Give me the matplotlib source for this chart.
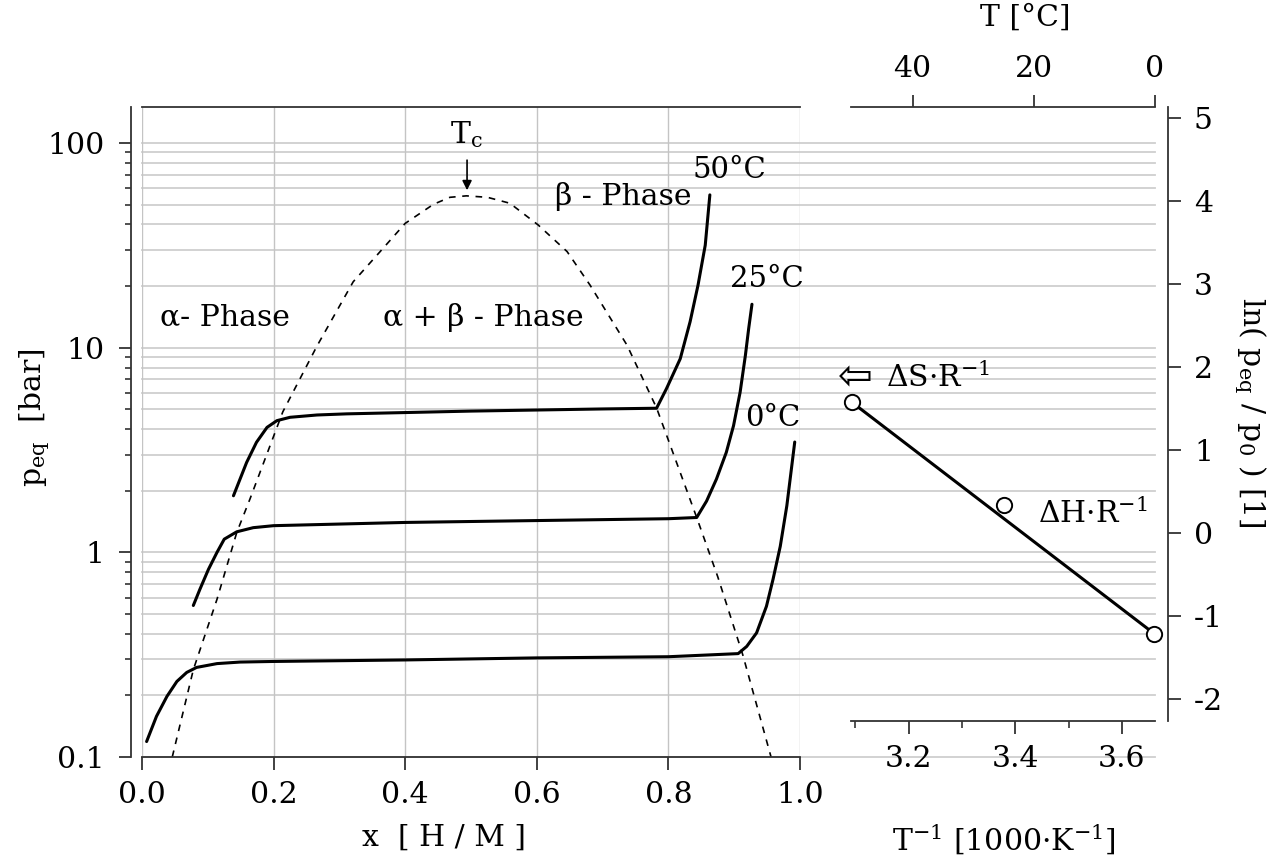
import matplotlib
matplotlib.use("Agg")
import matplotlib.pyplot as plt
from matplotlib.ticker import FixedLocator, NullFormatter, NullLocator

plt.rcParams['font.family'] = ['DejaVu Serif', 'DejaVu Sans']
plt.rcParams['mathtext.fontset'] = 'dejavuserif'
plt.rcParams['font.size'] = 21.5

# isotherms: x [H/M] -> p_eq [bar]
x_0c = [0.007, 0.022, 0.038, 0.053, 0.068, 0.083, 0.114, 0.149, 0.2, 0.4, 0.6, 0.8,
        0.906, 0.919, 0.934, 0.949, 0.959, 0.970, 0.980, 0.992]
p_0c = [0.119, 0.158, 0.198, 0.234, 0.259, 0.274, 0.286, 0.291, 0.293, 0.298, 0.305, 0.309,
        0.32, 0.347, 0.404, 0.545, 0.738, 1.07, 1.69, 3.46]

x_25c = [0.078, 0.088, 0.101, 0.114, 0.125, 0.144, 0.169, 0.2, 0.4, 0.6, 0.8,
         0.843, 0.858, 0.873, 0.888, 0.899, 0.909, 0.917, 0.922, 0.927]
p_25c = [0.55, 0.66, 0.826, 1.0, 1.16, 1.26, 1.32, 1.35, 1.40, 1.43, 1.46,
         1.48, 1.78, 2.28, 3.08, 4.16, 6.06, 9.17, 12.4, 16.3]

x_50c = [0.139, 0.149, 0.159, 0.174, 0.190, 0.205, 0.225, 0.266, 0.311, 0.5, 0.7,
         0.782, 0.797, 0.818, 0.833, 0.845, 0.856, 0.863]
p_50c = [1.89, 2.28, 2.75, 3.45, 4.08, 4.40, 4.57, 4.69, 4.75, 4.9, 5.02,
         5.06, 6.3, 8.83, 13.4, 20.2, 31.7, 55.8]

# two-phase dome (dashed)
x_dome = [0.046, 0.078, 0.114, 0.144, 0.164, 0.214, 0.266, 0.321, 0.357, 0.400, 0.443,
          0.468, 0.493, 0.525, 0.559, 0.602, 0.646, 0.681, 0.737, 0.782, 0.843, 0.875,
          0.913, 0.956]
p_dome = [0.1, 0.267, 0.59, 1.25, 1.82, 4.86, 10.2, 21.0, 28.3, 40.5, 50.2,
          54.3, 55.2, 54.3, 50.8, 39.8, 29.5, 20.2, 10.3, 5.08, 1.48, 0.76,
          0.316, 0.1]

# van 't Hoff plot
inv_T = [3.094, 3.378, 3.661]
ln_p = [1.57, 0.33, -1.22]

x_ticks = [0.0, 0.2, 0.4, 0.6, 0.8, 1.0]
x_ticklabels = ['0.0', '0.2', '0.4', '0.6', '0.8', '1.0']
y_ticks = [0.1, 1, 10, 100]
y_ticklabels = ['0.1', '1', '10', '100']
invT_ticks = [3.2, 3.4, 3.6]
invT_minor = [3.1, 3.3, 3.5]
ln_ticks = [-2, -1, 0, 1, 2, 3, 4, 5]
T_ticks = [40, 20, 0]

W, H = 1283, 867
fig = plt.figure(figsize=(W / 100, H / 100), dpi=100)

def box(l, t, r, b):
    return [l / W, 1 - b / H, (r - l) / W, (b - t) / H]

ax = fig.add_axes(box(142, 107, 800, 757))
ax2 = fig.add_axes(box(851, 107, 1155, 721))

spine_c = '#333333'
ymax = 150

# ---- left panel ----
ax.set_yscale('log')
ax.set_xlim(0, 1.0)
ax.set_ylim(0.1, ymax)

grid_x_end = (1155 - 142) / (800 - 142)
for dec in [0.1, 1, 10, 100]:
    for k in range(1, 10):
        v = k * dec
        if v <= ymax:
            ax.axhline(v, xmin=0, xmax=grid_x_end, clip_on=False,
                       color='#cfcfcf', lw=1.3, zorder=0)
for xv in x_ticks:
    ax.axvline(xv, color='#c4c4c4', lw=1.0, zorder=0)

ax.plot(x_dome, p_dome, color='k', lw=1.2, ls=(0, (4, 4)), zorder=2)
for xs, ps in [(x_0c, p_0c), (x_25c, p_25c), (x_50c, p_50c)]:
    ax.plot(xs, ps, color='k', lw=2.2, solid_capstyle='round',
            solid_joinstyle='round', zorder=3)

ax.spines['right'].set_visible(False)
ax.spines['left'].set_position(('outward', 8))
for s in ['left', 'top', 'bottom']:
    ax.spines[s].set_color(spine_c)
    ax.spines[s].set_linewidth(1.3)

ax.xaxis.set_major_locator(FixedLocator(x_ticks))
ax.set_xticklabels(x_ticklabels)
ax.xaxis.set_minor_locator(NullLocator())
ax.yaxis.set_major_locator(FixedLocator(y_ticks))
ax.set_yticklabels(y_ticklabels)
minor_y = [k * d for d in [0.1, 1, 10, 100] for k in range(2, 10) if k * d <= ymax]
ax.yaxis.set_minor_locator(FixedLocator(minor_y))
ax.yaxis.set_minor_formatter(NullFormatter())
ax.tick_params(axis='both', which='major', direction='out', length=9, width=1.3,
               color=spine_c, labelsize=21.5)
ax.tick_params(axis='y', which='minor', direction='out', length=4.5, width=1.2, color=spine_c)
ax.tick_params(axis='x', pad=8)
ax.tick_params(axis='y', pad=10)

ax.text(0.027, 12.8, 'α- Phase', va='baseline')
ax.text(0.366, 12.8, 'α + β - Phase', va='baseline')
ax.text(0.628, 49.7, 'β - Phase', va='baseline')
ax.text(0.493, 100, r'T$_{\mathrm{c}}$', va='baseline', ha='center')
ax.annotate('', xy=(0.494, 58.8), xytext=(0.494, 82.5),
            arrowprops=dict(arrowstyle='-|>', color='k', lw=1.2, mutation_scale=14,
                            shrinkA=0, shrinkB=0))
ax.text(0.837, 67.4, '50°C', fontsize=21, va='baseline')
ax.text(0.894, 19.9, '25°C', fontsize=21, va='baseline')
ax.text(0.916, 4.15, '0°C', fontsize=21, va='baseline')

# ---- right panel ----
ax2.patch.set_visible(False)
ax2.set_xlim(3.092, 3.662)
ax2.set_ylim(-2.27, 5.13)
ax2.plot([inv_T[0], inv_T[-1]], [ln_p[0], ln_p[-1]], color='k', lw=2.2, zorder=3)
ax2.plot(inv_T, ln_p, ls='none', marker='o', ms=11, mfc='white', mec='k',
         mew=1.4, clip_on=False, zorder=4)

ax2.spines['left'].set_visible(False)
ax2.spines['top'].set_visible(False)
ax2.spines['right'].set_position(('outward', 9))
for s in ['right', 'bottom']:
    ax2.spines[s].set_color(spine_c)
    ax2.spines[s].set_linewidth(1.3)
ax2.yaxis.tick_right()
ax2.yaxis.set_major_locator(FixedLocator(ln_ticks))
ax2.set_yticklabels([str(v) for v in ln_ticks])
ax2.xaxis.set_major_locator(FixedLocator(invT_ticks))
ax2.set_xticklabels(['3.2', '3.4', '3.6'])
ax2.xaxis.set_minor_locator(FixedLocator(invT_minor))
ax2.tick_params(axis='both', which='major', direction='out', length=9, width=1.3,
                color=spine_c, labelsize=21.5)
ax2.tick_params(axis='x', which='minor', direction='out', length=5, width=1.2, color=spine_c)
ax2.tick_params(axis='x', pad=8)
ax2.tick_params(axis='y', pad=10)

# top axis in °C, spaced as in the original (linear with the lower axis)
x_at_0c, deg_per_unit = 3.662, 88.0
secax = ax2.secondary_xaxis('top', functions=(lambda x: (x_at_0c - x) * deg_per_unit,
                                              lambda t: x_at_0c - t / deg_per_unit))
secax.set_xticks(T_ticks)
secax.set_xticklabels([str(t) for t in T_ticks])
secax.tick_params(direction='out', length=9, width=1.3, color=spine_c, labelsize=21.5, pad=8)
secax.spines['top'].set_color(spine_c)
secax.spines['top'].set_linewidth(1.3)

ax2.text(3.100, 1.87, '⇦', family='DejaVu Sans', fontsize=30, ha='center', va='center')
ax2.text(3.157, 1.75, r'ΔS·R$^{-1}$', va='baseline')
ax2.text(3.443, 0.12, r'ΔH·R$^{-1}$', va='baseline')

# ---- axis labels ----
fig.text(444 / W, 1 - 838 / H, 'x  [ H / M ]', ha='center', va='center')
fig.text(35 / W, 1 - 418 / H, r'p$_{\mathrm{eq}}$  [bar]', ha='center', va='center',
         rotation=90)
fig.text(1004 / W, 1 - 840 / H, r'T$^{-1}$ [1000·K$^{-1}$]', ha='center', va='center')
fig.text(1025 / W, 1 - 18 / H, 'T [°C]', ha='center', va='center')
fig.text(1250 / W, 1 - 412 / H, r'ln( p$_{\mathrm{eq}}$ / p$_0$ ) [1]', ha='center',
         va='center', rotation=270)

fig.savefig('out.png', dpi=100)
